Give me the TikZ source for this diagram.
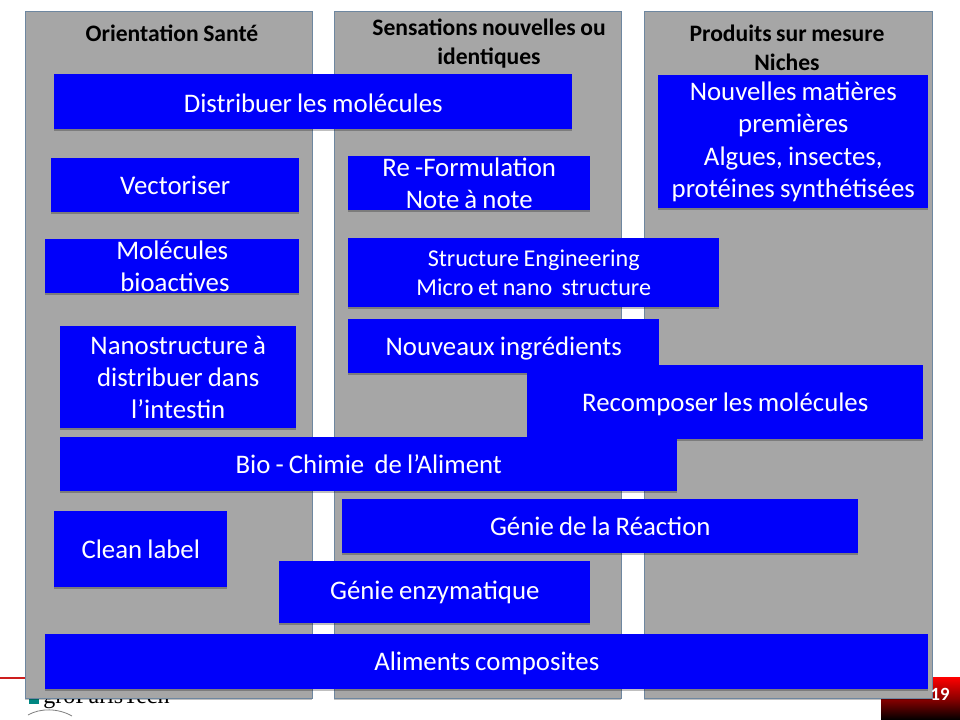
\documentclass[tikz,border=0pt]{standalone}
\usepackage{fontspec}
\setmainfont[WordSpace=0.85]{Carlito}
\newfontfamily\logofont{Liberation Serif}
\usetikzlibrary{shadows}
\definecolor{panelgray}{RGB}{166,166,166}
\definecolor{paneledge}{RGB}{110,135,160}
\definecolor{boxblue}{RGB}{0,0,250}
\definecolor{linered}{RGB}{205,30,30}
\definecolor{logoteal}{RGB}{0,135,130}
\tikzset{
  panel/.style={draw=paneledge,line width=0.7pt,fill=panelgray,anchor=north west,inner sep=0pt,
    drop shadow={shadow xshift=0pt,shadow yshift=-1.5pt,opacity=.25,fill=black}},
  head/.style={font=\fontsize{17.7}{21.3}\selectfont\bfseries,text=black,align=center,inner sep=0pt},
  bluebox/.style={fill=boxblue,text=white,anchor=north west,inner sep=0pt,align=center,
    font=\fontsize{20.1}{24.2}\selectfont,
    drop shadow={shadow xshift=0pt,shadow yshift=-1.6pt,opacity=.25,fill=black}},
  smalltext/.style={font=\fontsize{18.1}{21.5}\selectfont},
  lower/.style={text height=17pt},
  lowerless/.style={text height=15.8pt},
}
% \pbox{name}{x0}{y0}{x1}{y1}{options}{text}
\newcommand{\pbox}[7]{%
  \pgfmathsetmacro{\bw}{(#4-#2)*0.75}%
  \pgfmathsetmacro{\bh}{(#5-#3)*0.75}%
  \node[bluebox,minimum width=\bw pt,minimum height=\bh pt,#6] (#1) at (#2,#3) {#7};}
\newcommand{\ppanel}[5]{%
  \pgfmathsetmacro{\bw}{(#4-#2)*0.75}%
  \pgfmathsetmacro{\bh}{(#5-#3)*0.75}%
  \node[panel,minimum width=\bw pt,minimum height=\bh pt] (#1) at (#2,#3) {};}
\begin{document}
\begin{tikzpicture}[x=0.75pt,y=-0.75pt]
\useasboundingbox (0,0) rectangle (960,720);
\fill[white] (0,0) rectangle (960,720);
% footer
\coordinate (redA) at (0,678);
\coordinate (redB) at (30,678);
\draw[linered,line width=2pt] (redA) -- (redB);
\node[fill=logoteal,minimum width=7pt,minimum height=5pt,inner sep=0pt] (logomark) at (34,701) {};
\node[font=\logofont\fontsize{18}{18}\selectfont,text=black,anchor=base west,inner sep=0pt] (logotext) at (43,703) {groParisTech};
\draw[gray,line width=0.6pt] (28,715) .. controls (40,708) and (58,708) .. (72,716);
\shade[top color=red,bottom color=black,middle color=red!55!black] (881,677) rectangle (960,720);
% panels
\ppanel{p1}{25}{11}{312}{698}
\ppanel{p2}{334}{11}{621}{698}
\ppanel{p3}{644}{11}{932}{698}
\node[font=\fontsize{14}{14}\selectfont\bfseries,text=white,inner sep=0pt] (pagenum) at (940,694) {19};
\node[head] (h1) at (172,33) {Orientation Santé};
\node[head] (h2) at (489,43.5) {Sensations nouvelles ou\\identiques};
\node[head] (h3) at (787,48) {Produits sur mesure\\Niches};
% boxes
\pbox{b1}{54}{74}{572}{129}{lowerless}{Distribuer les molécules}
\pbox{b2}{51}{158}{299}{212}{}{Vectoriser}
\pbox{b3}{348}{156}{590}{210}{}{Re -Formulation\\Note à note}
\pbox{b4}{658}{75}{928}{208}{}{Nouvelles matières\\premières\\Algues, insectes,\\protéines synthétisées}
\pbox{b5}{45}{239}{299}{293}{}{Molécules\\\hspace*{0.2em}bioactives}
\pbox{b6}{348}{238}{719}{307}{smalltext}{Structure Engineering\\Micro et nano\ \ structure}
\pbox{b7}{60}{326}{296}{428}{}{Nanostructure à\\distribuer dans\\l’intestin}
\pbox{b8}{348}{319}{659}{373}{lower}{Nouveaux ingrédients}
\pbox{b9}{527}{365}{923}{439}{lower}{Recomposer les molécules}
\pbox{b10}{60}{437}{677}{491}{}{Bio - Chimie\ \ de l’Aliment}
\pbox{b11}{342}{499}{858}{553}{}{Génie de la Réaction}
\pbox{b12}{54}{511}{227}{587}{}{Clean label}
\pbox{b13}{279}{561}{590}{623}{}{Génie enzymatique}
\pbox{b14}{45}{634}{928}{689}{lower}{Aliments composites}
\end{tikzpicture}
\end{document}
